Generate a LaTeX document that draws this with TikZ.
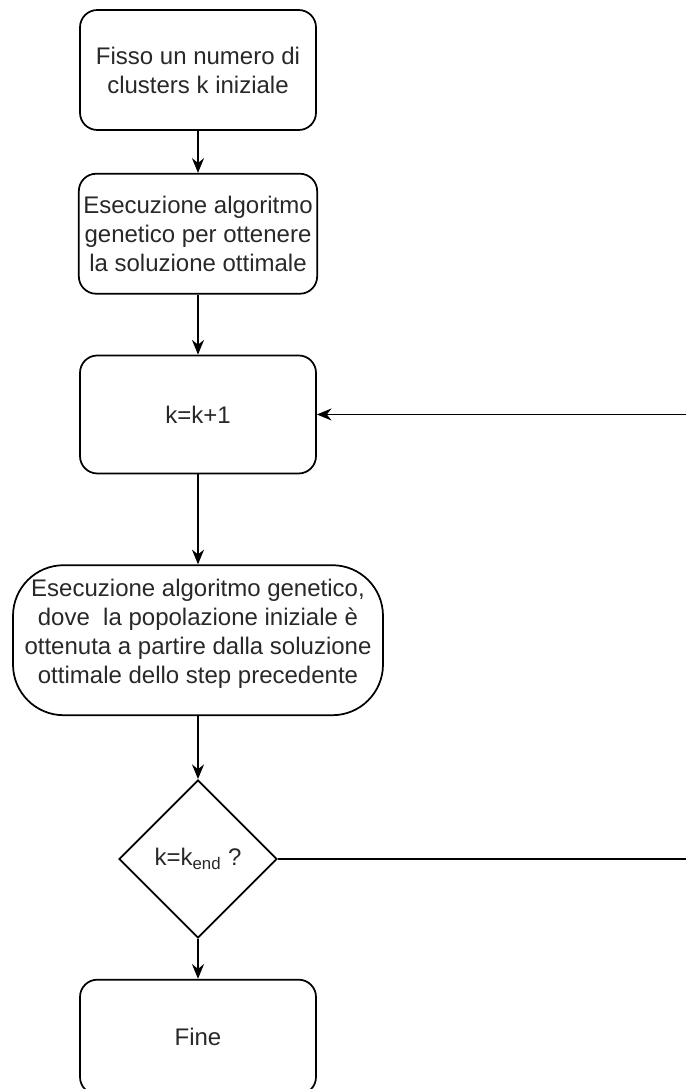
\documentclass[tikz,border=0pt]{standalone}
\usepackage{fontspec}
\setmainfont{Liberation Sans}
\usetikzlibrary{shapes.geometric,arrows.meta,positioning}
\definecolor{flowText}{RGB}{40,40,40}

\begin{document}
\begin{tikzpicture}[
    x=0.75pt, y=0.75pt,
    node distance=31.5pt,
    stepbox/.style={rectangle, draw, rounded corners=13pt, line width=1.3pt, minimum width=177pt, minimum height=90pt, align=center, text=flowText, font=\fontsize{18}{21.75}\selectfont},
    roundbox/.style={stepbox, rounded corners=38pt, minimum width=277.5pt, minimum height=112.5pt, text depth=14pt},
    decision/.style={diamond, draw, line width=1.3pt, minimum width=118.5pt, minimum height=118.5pt, inner sep=0pt, text=flowText, font=\fontsize{18}{21.75}\selectfont},
    arrow/.style={-{Stealth[length=11pt, width=9pt]}, line width=1.3pt}
]
    \useasboundingbox (0,0) rectangle (686,-1089);

    \node[stepbox] (start) at (198,-70) {Fisso un numero di\\clusters k iniziale};
    \node[stepbox, below=of start] (ga) {Esecuzione algoritmo\\genetico per ottenere\\la soluzione ottimale};
    \node[stepbox, below=45pt of ga, minimum height=88.5pt] (kinc) {k=k+1};
    \node[roundbox, below=67.5pt of kinc] (gastep) {Esecuzione algoritmo genetico,\\dove\ \ la popolazione iniziale è\\ottenuta a partire dalla soluzione\\ottimale dello step precedente};
    \node[decision, below=47.25pt of gastep] (cond) {k=k\textsubscript{end} ?};
    \node[stepbox, below=30pt of cond, minimum height=86pt] (fine) {Fine};

    \coordinate (edge) at (686,0);
    \coordinate (loopin) at (edge |- kinc.east);
    \coordinate (loopout) at (edge |- cond.east);

    \draw[arrow] (start) -- (ga);
    \draw[arrow] (ga) -- (kinc);
    \draw[arrow] (kinc) -- (gastep);
    \draw[arrow] (gastep) -- (cond);
    \draw[arrow] (cond) -- (fine);
    \draw[line width=1.3pt] (cond.east) -- (loopout);
    \draw[arrow] (loopin) -- (kinc.east);
\end{tikzpicture}
\end{document}
